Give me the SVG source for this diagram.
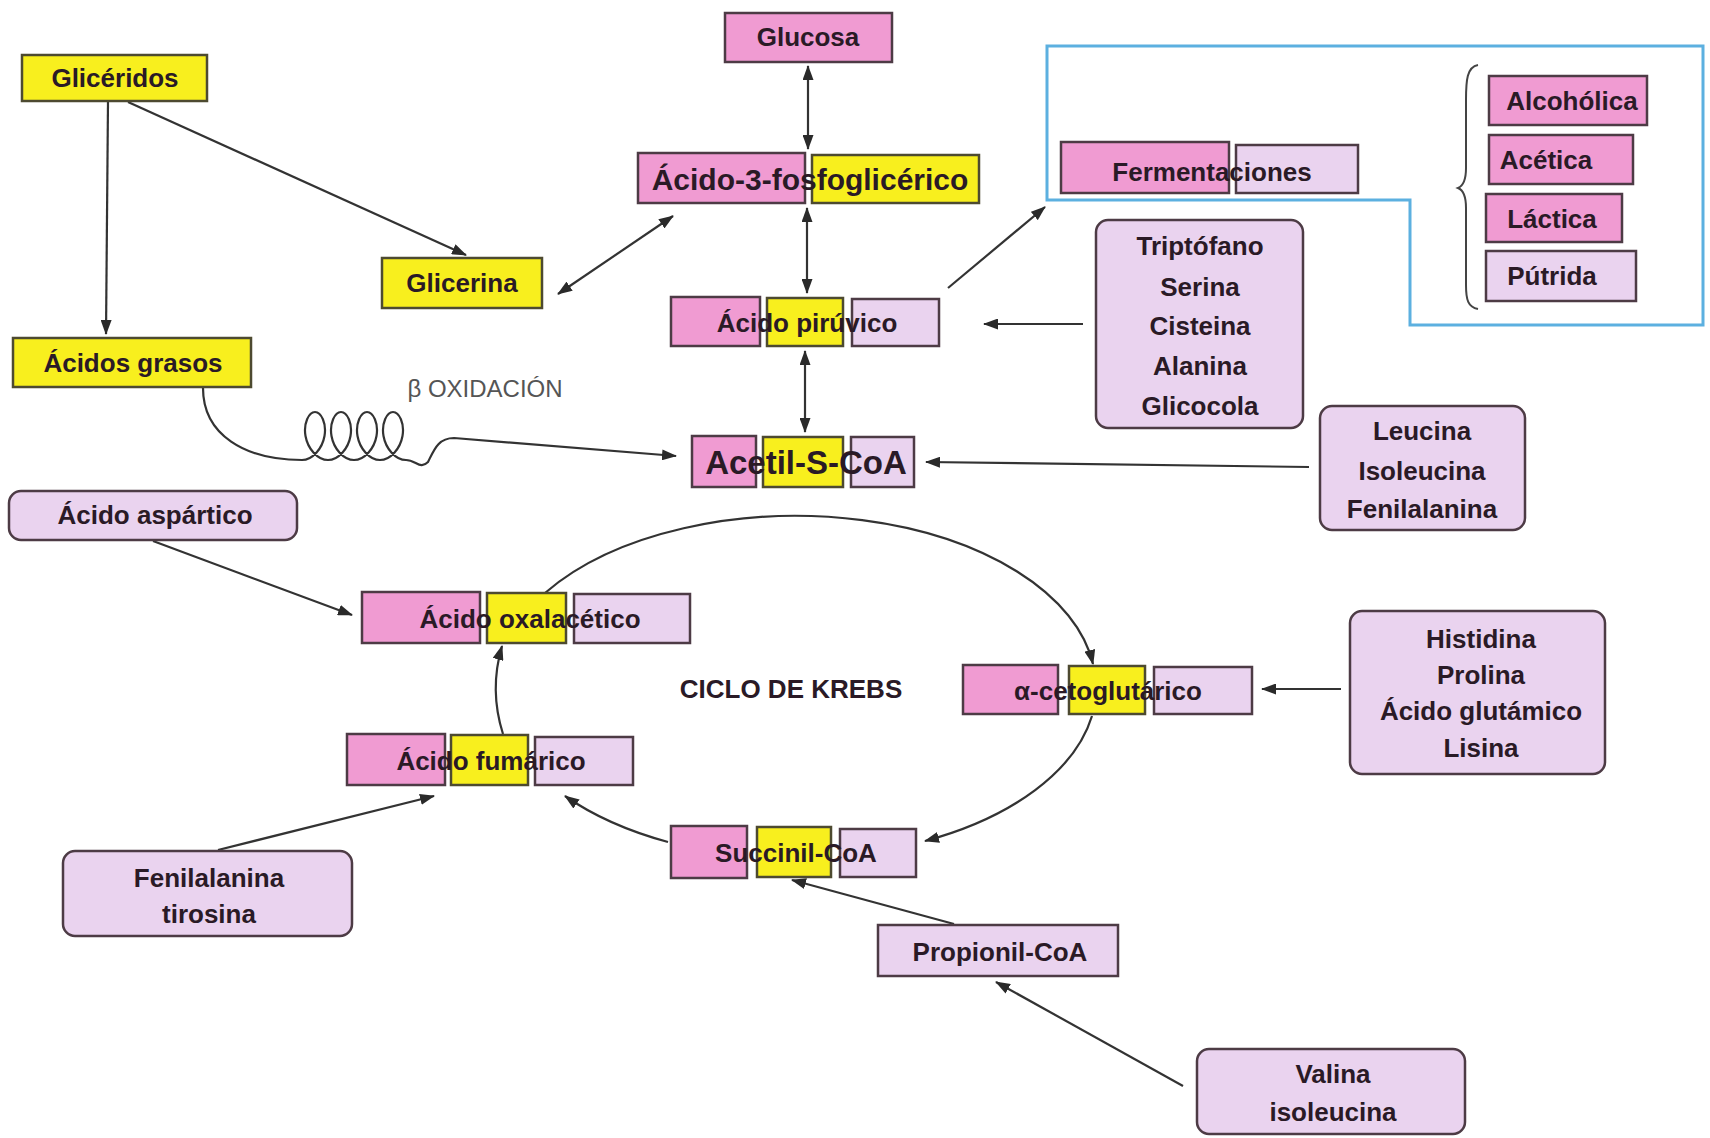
<svg xmlns="http://www.w3.org/2000/svg" width="1710" height="1138" viewBox="0 0 1710 1138">
<style>
.pk{fill:#f09bd2;stroke:#4d3b45;stroke-width:2.5}
.yl{fill:#f8ef1e;stroke:#4d4a30;stroke-width:2.5}
.lv{fill:#ead3ef;stroke:#4d3b45;stroke-width:2.5}
.t{font-family:"Liberation Sans",Arial,sans-serif;font-weight:bold;font-size:26px;fill:#2a1a26;text-anchor:middle}
.ln{fill:none;stroke:#333;stroke-width:2.2}
</style>
<defs>
<marker id="ah" viewBox="0 0 15 11" refX="14" refY="5.5" markerWidth="15" markerHeight="11" markerUnits="userSpaceOnUse" orient="auto-start-reverse">
<path d="M0,0 L15,5.5 L0,11 z" fill="#2a2a2a"/>
</marker>
</defs>
<rect width="1710" height="1138" fill="#ffffff"/>

<g id="connectors">
<path class="ln" d="M108,101 L106,334" marker-end="url(#ah)"/>
<path class="ln" d="M128,102 L466,255" marker-end="url(#ah)"/>
<path class="ln" d="M808,66 L808,149" marker-start="url(#ah)" marker-end="url(#ah)"/>
<path class="ln" d="M807,208 L807,293" marker-start="url(#ah)" marker-end="url(#ah)"/>
<path class="ln" d="M805,351 L805,432" marker-start="url(#ah)" marker-end="url(#ah)"/>
<path class="ln" d="M558,294 L673,216" marker-start="url(#ah)" marker-end="url(#ah)"/>
<path class="ln" d="M948,288 L1045,207" marker-end="url(#ah)"/>
<path class="ln" d="M1083,324 L984,324" marker-end="url(#ah)"/>
<path class="ln" d="M1309,467 L926,462" marker-end="url(#ah)"/>
<path class="ln" d="M203,388 C203,435 245,460 302,460
C312.5,460 322.3,448.6 324.5,436 C326.7,423.4 321.2,412 315,412 C308.8,412 303.3,423.4 305.5,436 C307.7,448.6 317.5,460 328,460
C338.5,460 348.3,448.6 350.5,436 C352.7,423.4 347.2,412 341,412 C334.8,412 329.3,423.4 331.5,436 C333.7,448.6 343.5,460 354,460
C364.5,460 374.3,448.6 376.5,436 C378.7,423.4 373.2,412 367,412 C360.8,412 355.3,423.4 357.5,436 C359.7,448.6 369.5,460 380,460
C390.5,460 400.3,448.6 402.5,436 C404.7,423.4 399.2,412 393,412 C386.8,412 381.3,423.4 383.5,436 C385.7,448.6 395.5,460 406,460
C416,460 420,470 428,462 C434,450 438,438 454,438 L676,456" marker-end="url(#ah)"/>
<path class="ln" d="M153,541 L352,615" marker-end="url(#ah)"/>
<path class="ln" d="M545,593 A300,171 0 0 1 1093,664" marker-end="url(#ah)"/>
<path class="ln" d="M1092,716 A300,171 0 0 1 925,841" marker-end="url(#ah)"/>
<path class="ln" d="M668,842 A300,171 0 0 1 565,796" marker-end="url(#ah)"/>
<path class="ln" d="M503,734 Q489,690 502,646" marker-end="url(#ah)"/>
<path class="ln" d="M1341,689 L1262,689" marker-end="url(#ah)"/>
<path class="ln" d="M218,850 L434,796" marker-end="url(#ah)"/>
<path class="ln" d="M954,924 L792,880" marker-end="url(#ah)"/>
<path class="ln" d="M1183,1086 L996,982" marker-end="url(#ah)"/>
</g>

<g id="fermentacion-marco">
<path d="M1047,46 L1703,46 L1703,325 L1410,325 L1410,200 L1047,200 Z" fill="none" stroke="#5cb0e0" stroke-width="3"/>
<path d="M1478,65 C1467,67 1466,80 1466,100 L1466,168 C1466,181 1463,186 1458,188 C1463,190 1466,195 1466,208 L1466,285 C1466,300 1468,307 1478,309" fill="none" stroke="#444" stroke-width="2"/>
</g>

<g id="glucosa"><rect class="pk" x="725" y="13" width="167" height="49"/><text class="t" x="808" y="46">Glucosa</text></g>
<g id="gliceridos"><rect class="yl" x="22" y="55" width="185" height="46"/><text class="t" x="115" y="87">Glicéridos</text></g>
<g id="fosfoglicerico"><rect class="pk" x="638" y="153" width="167" height="50"/><rect class="yl" x="812" y="155" width="167" height="48"/><text class="t" x="810" y="190" style="font-size:30px">Ácido-3-fosfoglicérico</text></g>
<g id="glicerina"><rect class="yl" x="382" y="258" width="160" height="50"/><text class="t" x="462" y="292">Glicerina</text></g>
<g id="acidos-grasos"><rect class="yl" x="13" y="338" width="238" height="49"/><text class="t" x="133" y="372">Ácidos grasos</text></g>
<g id="beta-oxidacion"><text x="485" y="397" style="font-family:'Liberation Sans',Arial,sans-serif;font-size:24px;fill:#555;text-anchor:middle">β OXIDACIÓN</text></g>
<g id="piruvico"><rect class="pk" x="671" y="297" width="89" height="49"/><rect class="yl" x="767" y="298" width="76" height="48"/><rect class="lv" x="852" y="299" width="87" height="47"/><text class="t" x="807" y="332">Ácido pirúvico</text></g>
<g id="acetil"><rect class="pk" x="692" y="436" width="64" height="51"/><rect class="yl" x="763" y="437" width="80" height="50"/><rect class="lv" x="851" y="437" width="63" height="50"/><text class="t" x="806" y="474" style="font-size:33px">Acetil-S-CoA</text></g>
<g id="fermentaciones"><rect class="pk" x="1061" y="142" width="168" height="51"/><rect class="lv" x="1236" y="145" width="122" height="48"/><text class="t" x="1212" y="181">Fermentaciones</text></g>
<g id="alcoholica"><rect class="pk" x="1489" y="76" width="158" height="49"/><text class="t" x="1572" y="110">Alcohólica</text></g>
<g id="acetica"><rect class="pk" x="1489" y="135" width="144" height="49"/><text class="t" x="1546" y="169">Acética</text></g>
<g id="lactica"><rect class="pk" x="1486" y="194" width="136" height="48"/><text class="t" x="1552" y="228">Láctica</text></g>
<g id="putrida"><rect class="lv" x="1486" y="251" width="150" height="50"/><text class="t" x="1552" y="285">Pútrida</text></g>
<g id="triptofano-grupo"><rect class="lv" x="1096" y="220" width="207" height="208" rx="12"/>
<text class="t" x="1200" y="255">Triptófano</text><text class="t" x="1200" y="296">Serina</text><text class="t" x="1200" y="335">Cisteina</text><text class="t" x="1200" y="375">Alanina</text><text class="t" x="1200" y="415">Glicocola</text></g>
<g id="leucina-grupo"><rect class="lv" x="1320" y="406" width="205" height="124" rx="12"/>
<text class="t" x="1422" y="440">Leucina</text><text class="t" x="1422" y="480">Isoleucina</text><text class="t" x="1422" y="518">Fenilalanina</text></g>
<g id="aspartico"><rect class="lv" x="9" y="491" width="288" height="49" rx="12"/><text class="t" x="155" y="524">Ácido aspártico</text></g>
<g id="oxalacetico"><rect class="pk" x="362" y="592" width="118" height="51"/><rect class="yl" x="487" y="593" width="79" height="50"/><rect class="lv" x="574" y="594" width="116" height="49"/><text class="t" x="530" y="628">Ácido oxalacético</text></g>
<g id="ciclo-krebs"><text class="t" x="791" y="698">CICLO DE KREBS</text></g>
<g id="cetoglutarico"><rect class="pk" x="963" y="665" width="95" height="49"/><rect class="yl" x="1069" y="666" width="76" height="48"/><rect class="lv" x="1154" y="667" width="98" height="47"/><text class="t" x="1108" y="700">α-cetoglutárico</text></g>
<g id="histidina-grupo"><rect class="lv" x="1350" y="611" width="255" height="163" rx="12"/>
<text class="t" x="1481" y="648">Histidina</text><text class="t" x="1481" y="684">Prolina</text><text class="t" x="1481" y="720">Ácido glutámico</text><text class="t" x="1481" y="757">Lisina</text></g>
<g id="fumarico"><rect class="pk" x="347" y="734" width="98" height="51"/><rect class="yl" x="451" y="735" width="77" height="50"/><rect class="lv" x="535" y="737" width="98" height="48"/><text class="t" x="491" y="770">Ácido fumárico</text></g>
<g id="succinil"><rect class="pk" x="671" y="826" width="76" height="52"/><rect class="yl" x="757" y="827" width="74" height="50"/><rect class="lv" x="840" y="829" width="76" height="48"/><text class="t" x="796" y="862">Succinil-CoA</text></g>
<g id="fenilalanina-tirosina"><rect class="lv" x="63" y="851" width="289" height="85" rx="12"/>
<text class="t" x="209" y="887">Fenilalanina</text><text class="t" x="209" y="923">tirosina</text></g>
<g id="propionil"><rect class="lv" x="878" y="925" width="240" height="51"/><text class="t" x="1000" y="961">Propionil-CoA</text></g>
<g id="valina-isoleucina"><rect class="lv" x="1197" y="1049" width="268" height="85" rx="12"/>
<text class="t" x="1333" y="1083">Valina</text><text class="t" x="1333" y="1121">isoleucina</text></g>
</svg>
